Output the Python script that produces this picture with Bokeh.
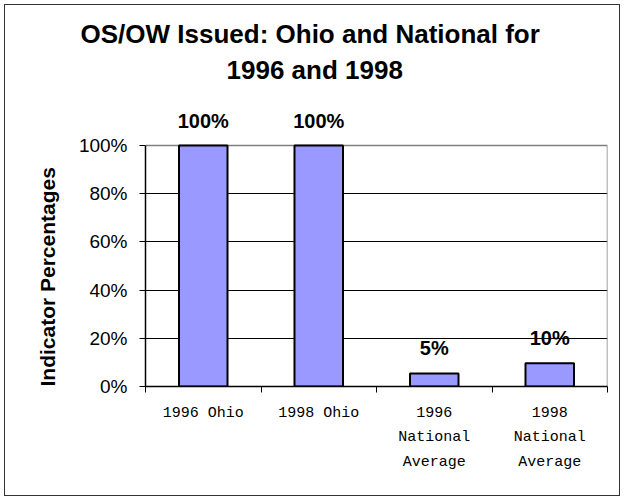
from bokeh.plotting import figure
from bokeh.models import (Range1d, FixedTicker, PrintfTickFormatter,
                          ColumnDataSource, LabelSet, Title)
from bokeh.core.properties import value
from bokeh.embed import file_html
from bokeh.resources import INLINE

# ---- data ----
categories = ["1996 Ohio", "1998 Ohio", "1996\nNational\nAverage", "1998\nNational\nAverage"]
values = [100, 100, 5.4, 9.6]
y_ticks = [0, 20, 40, 60, 80, 100]
title_lines = ["OS/OW Issued: Ohio and National for", "1996 and 1998"]
y_label = "Indicator Percentages"

n = len(categories)
xs = [i + 0.5 for i in range(n)]
bar_labels = [f"{round(v)}%" for v in values]
source = ColumnDataSource(dict(x=xs, top=values, label=bar_labels))

# frame extends above 100% so the value labels are drawn inside it
y_top = y_ticks[-1] * 300 / 241

p = figure(width=616, height=492, output_backend="svg", toolbar_location=None,
           x_range=Range1d(0, n), y_range=Range1d(y_ticks[0], y_top),
           min_border_left=140, min_border_right=14, min_border_top=81,
           min_border_bottom=111)
p.background_fill_color = "white"
p.border_fill_color = "white"
p.outline_line_color = None
p.styles = {"margin-left": "4px", "margin-top": "4px", "border": "1px solid #333333"}

# plot-area border (top and right), grey
p.multi_line(xs=[[0, n], [n, n]], ys=[[y_ticks[-1], y_ticks[-1]], [y_ticks[0], y_ticks[-1]]],
             line_color="#808080", line_width=1.5)

p.vbar(x="x", top="top", bottom=0, width=0.42, source=source,
       fill_color="#9999FF", line_color="black", line_width=2)

p.add_layout(LabelSet(x="x", y="top", text="label", source=source, y_offset=18,
                      text_align="center", text_baseline="alphabetic",
                      text_font=value("Liberation Sans"), text_font_size="20px",
                      text_font_style="bold", text_color="black"))

# title (two lines); inner line first
for txt, off in [(title_lines[1], 81), (title_lines[0], -65)]:
    p.add_layout(Title(text=txt, align="left", offset=off,
                       text_font="Liberation Sans", text_font_size="26px",
                       text_font_style="bold", text_color="black", standoff=4), "above")

# grid
p.xgrid.grid_line_color = None
p.ygrid.ticker = FixedTicker(ticks=y_ticks[1:-1])
p.ygrid.grid_line_color = "black"
p.ygrid.grid_line_width = 1

# y axis
ya = p.yaxis[0]
ya.ticker = FixedTicker(ticks=y_ticks)
ya.bounds = (y_ticks[0], y_ticks[-1])
ya.formatter = PrintfTickFormatter(format="%d%%")
ya.axis_line_color = "black"
ya.axis_line_width = 1.5
ya.major_tick_out = 6
ya.major_tick_in = 0
ya.major_tick_line_color = "black"
ya.minor_tick_line_color = None
ya.major_label_standoff = 12
ya.major_label_text_font = "Liberation Sans"
ya.major_label_text_font_size = "19px"
ya.major_label_text_color = "black"

# y-axis title, placed along the 0..100 part of the axis
p.add_layout(Title(text=y_label, align="left", offset=0, standoff=33,
                   text_font="Liberation Sans", text_font_size="21px",
                   text_font_style="bold", text_color="black"), "left")

# x axis: labels at centers, ticks at category boundaries
xa = p.xaxis[0]
xa.ticker = FixedTicker(ticks=xs, minor_ticks=list(range(n + 1)))
xa.major_label_overrides = {x: c for x, c in zip(xs, categories)}
xa.axis_line_color = "black"
xa.axis_line_width = 1.5
xa.major_tick_out = 0
xa.major_tick_in = 0
xa.minor_tick_out = 6
xa.minor_tick_in = 0
xa.minor_tick_line_color = "black"
xa.major_label_standoff = 12
xa.major_label_text_font = "Liberation Mono"
xa.major_label_text_font_size = "15px"
xa.major_label_text_line_height = 1.45
xa.major_label_text_color = "black"

open("out.html", "w").write(file_html(p, INLINE))
